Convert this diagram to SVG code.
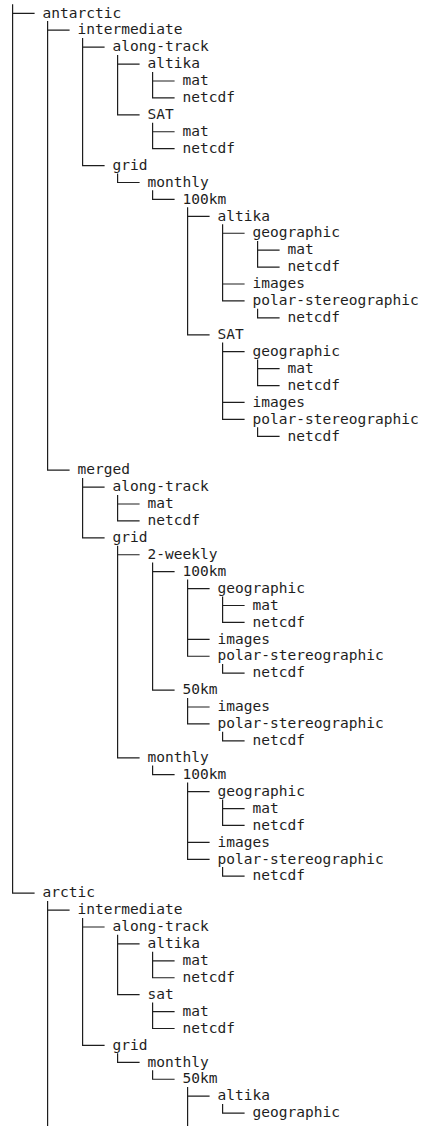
<svg xmlns="http://www.w3.org/2000/svg" width="422" height="1126" viewBox="0 0 422 1126">
<style>
text{font-family:"DejaVu Sans Mono","Liberation Mono",monospace;font-size:14.53px;fill:#1e1e1e}
.c{fill:none;stroke:#1e1e1e;stroke-width:1.2}
</style>
<rect width="422" height="1126" fill="#fff"/>
<g id="connectors" class="c">
<path d="M12.6 4.2V893.14H34.6M12.6 13.3H34.6"/>
<path d="M47.6 21.12V470.14H69.6M47.6 30.22H69.6"/>
<path d="M82.6 38.04V165.58H104.6M82.6 47.14H104.6"/>
<path d="M117.6 54.96V114.82H139.6M117.6 64.06H139.6"/>
<path d="M152.6 71.88V97.9H174.6M152.6 80.98H174.6"/>
<path d="M152.6 122.64V148.66H174.6M152.6 131.74H174.6"/>
<path d="M117.6 173.4V182.5H139.6"/>
<path d="M152.6 190.32V199.42H174.6"/>
<path d="M187.6 207.24V334.78H209.6M187.6 216.34H209.6"/>
<path d="M222.6 224.16V300.94H244.6M222.6 233.26H244.6M222.6 284.02H244.6"/>
<path d="M257.6 241.08V267.1H279.6M257.6 250.18H279.6"/>
<path d="M257.6 308.76V317.86H279.6"/>
<path d="M222.6 342.6V419.38H244.6M222.6 351.7H244.6M222.6 402.46H244.6"/>
<path d="M257.6 359.52V385.54H279.6M257.6 368.62H279.6"/>
<path d="M257.6 427.2V436.3H279.6"/>
<path d="M82.6 477.96V537.82H104.6M82.6 487.06H104.6"/>
<path d="M117.6 494.88V520.9H139.6M117.6 503.98H139.6"/>
<path d="M117.6 545.64V757.78H139.6M117.6 554.74H139.6"/>
<path d="M152.6 562.56V690.1H174.6M152.6 571.66H174.6"/>
<path d="M187.6 579.48V656.26H209.6M187.6 588.58H209.6M187.6 639.34H209.6"/>
<path d="M222.6 596.4V622.42H244.6M222.6 605.5H244.6"/>
<path d="M222.6 664.08V673.18H244.6"/>
<path d="M187.6 697.92V723.94H209.6M187.6 707.02H209.6"/>
<path d="M222.6 731.76V740.86H244.6"/>
<path d="M152.6 765.6V774.7H174.6"/>
<path d="M187.6 782.52V859.3H209.6M187.6 791.62H209.6M187.6 842.38H209.6"/>
<path d="M222.6 799.44V825.46H244.6M222.6 808.54H244.6"/>
<path d="M222.6 867.12V876.22H244.6"/>
<path d="M47.6 900.96V1126M47.6 910.06H69.6"/>
<path d="M82.6 917.88V1045.42H104.6M82.6 926.98H104.6"/>
<path d="M117.6 934.8V994.66H139.6M117.6 943.9H139.6"/>
<path d="M152.6 951.72V977.74H174.6M152.6 960.82H174.6"/>
<path d="M152.6 1002.48V1028.5H174.6M152.6 1011.58H174.6"/>
<path d="M117.6 1053.24V1062.34H139.6"/>
<path d="M152.6 1070.16V1079.26H174.6"/>
<path d="M187.6 1087.08V1126M187.6 1096.18H209.6"/>
<path d="M222.6 1104V1113.1H244.6"/>
</g>
<g id="n00-antarctic"><text x="42.6" y="17.5">antarctic</text></g>
<g id="n01-antarctic-intermediate"><text x="77.6" y="34.42">intermediate</text></g>
<g id="n02-ai-along-track"><text x="112.6" y="51.34">along-track</text></g>
<g id="n03-ai-at-altika"><text x="147.6" y="68.26">altika</text></g>
<g id="n04-ai-at-altika-mat"><text x="182.6" y="85.18">mat</text></g>
<g id="n05-ai-at-altika-netcdf"><text x="182.6" y="102.1">netcdf</text></g>
<g id="n06-ai-at-SAT"><text x="147.6" y="119.02">SAT</text></g>
<g id="n07-ai-at-SAT-mat"><text x="182.6" y="135.94">mat</text></g>
<g id="n08-ai-at-SAT-netcdf"><text x="182.6" y="152.86">netcdf</text></g>
<g id="n09-ai-grid"><text x="112.6" y="169.78">grid</text></g>
<g id="n10-ai-grid-monthly"><text x="147.6" y="186.7">monthly</text></g>
<g id="n11-ai-gm-100km"><text x="182.6" y="203.62">100km</text></g>
<g id="n12-ai-gm100-altika"><text x="217.6" y="220.54">altika</text></g>
<g id="n13-ai-gm100-altika-geographic"><text x="252.6" y="237.46">geographic</text></g>
<g id="n14-ai-gm100-altika-geo-mat"><text x="287.6" y="254.38">mat</text></g>
<g id="n15-ai-gm100-altika-geo-netcdf"><text x="287.6" y="271.3">netcdf</text></g>
<g id="n16-ai-gm100-altika-images"><text x="252.6" y="288.22">images</text></g>
<g id="n17-ai-gm100-altika-polar"><text x="252.6" y="305.14">polar-stereographic</text></g>
<g id="n18-ai-gm100-altika-polar-netcdf"><text x="287.6" y="322.06">netcdf</text></g>
<g id="n19-ai-gm100-SAT"><text x="217.6" y="338.98">SAT</text></g>
<g id="n20-ai-gm100-SAT-geographic"><text x="252.6" y="355.9">geographic</text></g>
<g id="n21-ai-gm100-SAT-geo-mat"><text x="287.6" y="372.82">mat</text></g>
<g id="n22-ai-gm100-SAT-geo-netcdf"><text x="287.6" y="389.74">netcdf</text></g>
<g id="n23-ai-gm100-SAT-images"><text x="252.6" y="406.66">images</text></g>
<g id="n24-ai-gm100-SAT-polar"><text x="252.6" y="423.58">polar-stereographic</text></g>
<g id="n25-ai-gm100-SAT-polar-netcdf"><text x="287.6" y="440.5">netcdf</text></g>
<g id="n27-antarctic-merged"><text x="77.6" y="474.34">merged</text></g>
<g id="n28-am-along-track"><text x="112.6" y="491.26">along-track</text></g>
<g id="n29-am-at-mat"><text x="147.6" y="508.18">mat</text></g>
<g id="n30-am-at-netcdf"><text x="147.6" y="525.1">netcdf</text></g>
<g id="n31-am-grid"><text x="112.6" y="542.02">grid</text></g>
<g id="n32-am-grid-2-weekly"><text x="147.6" y="558.94">2-weekly</text></g>
<g id="n33-am-g2w-100km"><text x="182.6" y="575.86">100km</text></g>
<g id="n34-am-g2w100-geographic"><text x="217.6" y="592.78">geographic</text></g>
<g id="n35-am-g2w100-geo-mat"><text x="252.6" y="609.7">mat</text></g>
<g id="n36-am-g2w100-geo-netcdf"><text x="252.6" y="626.62">netcdf</text></g>
<g id="n37-am-g2w100-images"><text x="217.6" y="643.54">images</text></g>
<g id="n38-am-g2w100-polar"><text x="217.6" y="660.46">polar-stereographic</text></g>
<g id="n39-am-g2w100-polar-netcdf"><text x="252.6" y="677.38">netcdf</text></g>
<g id="n40-am-g2w-50km"><text x="182.6" y="694.3">50km</text></g>
<g id="n41-am-g2w50-images"><text x="217.6" y="711.22">images</text></g>
<g id="n42-am-g2w50-polar"><text x="217.6" y="728.14">polar-stereographic</text></g>
<g id="n43-am-g2w50-polar-netcdf"><text x="252.6" y="745.06">netcdf</text></g>
<g id="n44-am-grid-monthly"><text x="147.6" y="761.98">monthly</text></g>
<g id="n45-am-gm-100km"><text x="182.6" y="778.9">100km</text></g>
<g id="n46-am-gm100-geographic"><text x="217.6" y="795.82">geographic</text></g>
<g id="n47-am-gm100-geo-mat"><text x="252.6" y="812.74">mat</text></g>
<g id="n48-am-gm100-geo-netcdf"><text x="252.6" y="829.66">netcdf</text></g>
<g id="n49-am-gm100-images"><text x="217.6" y="846.58">images</text></g>
<g id="n50-am-gm100-polar"><text x="217.6" y="863.5">polar-stereographic</text></g>
<g id="n51-am-gm100-polar-netcdf"><text x="252.6" y="880.42">netcdf</text></g>
<g id="n52-arctic"><text x="42.6" y="897.34">arctic</text></g>
<g id="n53-arctic-intermediate"><text x="77.6" y="914.26">intermediate</text></g>
<g id="n54-ri-along-track"><text x="112.6" y="931.18">along-track</text></g>
<g id="n55-ri-at-altika"><text x="147.6" y="948.1">altika</text></g>
<g id="n56-ri-at-altika-mat"><text x="182.6" y="965.02">mat</text></g>
<g id="n57-ri-at-altika-netcdf"><text x="182.6" y="981.94">netcdf</text></g>
<g id="n58-ri-at-sat"><text x="147.6" y="998.86">sat</text></g>
<g id="n59-ri-at-sat-mat"><text x="182.6" y="1015.78">mat</text></g>
<g id="n60-ri-at-sat-netcdf"><text x="182.6" y="1032.7">netcdf</text></g>
<g id="n61-ri-grid"><text x="112.6" y="1049.62">grid</text></g>
<g id="n62-ri-grid-monthly"><text x="147.6" y="1066.54">monthly</text></g>
<g id="n63-ri-gm-50km"><text x="182.6" y="1083.46">50km</text></g>
<g id="n64-ri-gm50-altika"><text x="217.6" y="1100.38">altika</text></g>
<g id="n65-ri-gm50-altika-geographic"><text x="252.6" y="1117.3">geographic</text></g>
</svg>
